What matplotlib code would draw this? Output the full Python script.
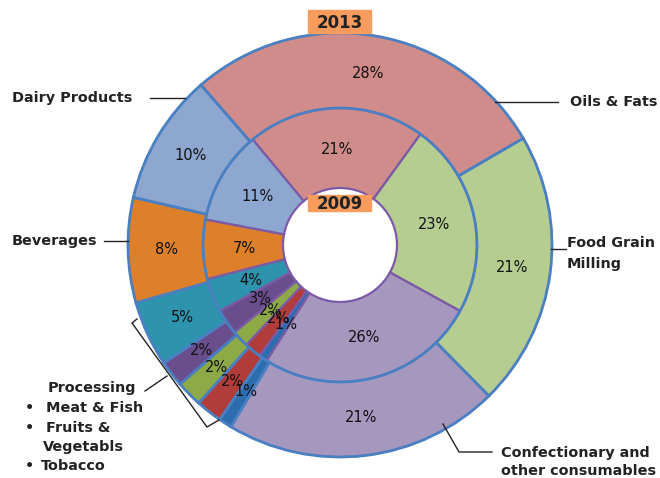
import matplotlib
matplotlib.use("Agg")
import matplotlib.pyplot as plt

# segment order: clockwise from the Dairy / Oils boundary
segments = ["Oils & Fats", "Food Grain Milling", "Confectionary", "Tobacco",
            "Fruits", "Vegetables", "Meat & Fish", "Processing", "Beverages",
            "Dairy Products"]
share_2013 = [28, 21, 21, 1, 2, 2, 2, 5, 8, 10]
share_2009 = [21, 23, 26, 1, 2, 2, 3, 4, 7, 11]
colors = ["#D08C8B", "#B6CD91", "#A597BE", "#2C6DB0", "#B23C3A",
          "#8DAA47", "#6A4D8C", "#2E93AD", "#DE7F2A", "#8DA7D0"]

W, H = 660, 478
CX, CY, R = 340, 245, 212          # pixel centre and outer radius
HALF = 250

fig = plt.figure(figsize=(W / 100, H / 100), dpi=100)
ax = fig.add_axes([(CX - HALF) / W, (H - CY - HALF) / H, 2 * HALF / W, 2 * HALF / H])
lim = HALF / R
ax.set_aspect("equal")
ax.axis("off")

r_in = 137 / R
r_hole = 57 / R
pct_font = dict(fontsize=10.5, color="#111111", family="DejaVu Sans")

# inner ring (2009)
ax.pie(share_2009, radius=r_in, colors=colors, startangle=129.6, counterclock=False,
       autopct="%d%%", pctdistance=0.70,
       wedgeprops=dict(width=r_in - r_hole, edgecolor="#7B5AA6", linewidth=1.6),
       textprops=pct_font)
# outer ring (2013)
ax.pie(share_2013, radius=1.0, colors=colors, startangle=131, counterclock=False,
       autopct="%d%%", pctdistance=0.82,
       wedgeprops=dict(width=1.0 - r_in, edgecolor="#4A7FC1", linewidth=2),
       textprops=pct_font)
ax.set_xlim(-lim, lim)
ax.set_ylim(-lim, lim)


def px(x, y):
    return ((x - CX) / R, (CY - y) / R)


# year tags
for label, (x0, y0, x1, y1) in [("2013", (308, 10, 371, 33)), ("2009", (308, 195, 371, 211))]:
    a = px(x0, y1)
    b = px(x1, y0)
    ax.add_patch(plt.Rectangle(a, b[0] - a[0], b[1] - a[1], color="#F79C5C", zorder=5,
                               clip_on=False))
    ax.text(*px((x0 + x1) / 2, (y0 + y1) / 2 + 1), label, ha="center", va="center",
            fontsize=12, fontweight="bold", color="#222222", zorder=6)

lab = dict(fontsize=10.4, fontweight="bold", color="#222222", va="center")
line = dict(color="#222222", linewidth=1, clip_on=False)


def seg(points):
    xs, ys = zip(*[px(*p) for p in points])
    ax.plot(xs, ys, **line)


ax.text(*px(12, 98), "Dairy Products", ha="left", **lab)
seg([(150, 98), (185, 98)])
ax.text(*px(12, 241), "Beverages", ha="left", **lab)
seg([(104, 241), (128, 241)])
ax.text(*px(570, 102), "Oils & Fats", ha="left", **lab)
seg([(495, 102), (558, 102)])
ax.text(*px(567, 243), "Food Grain", ha="left", **lab)
ax.text(*px(567, 264), "Milling", ha="left", **lab)
seg([(551, 249), (566, 249)])
ax.text(*px(501, 453), "Confectionary and", ha="left", **lab)
ax.text(*px(501, 471), "other consumables", ha="left", **lab)
seg([(443, 424), (459, 452), (492, 452)])

# bracket for the small segments
seg([(137, 319), (132, 323), (207, 427), (219, 420)])
seg([(145, 391), (167, 376)])
ax.text(*px(48, 388), "Processing", ha="left", **lab)
ax.text(*px(25, 408), "\u2022", ha="left", **lab)
ax.text(*px(46, 408), "Meat & Fish", ha="left", **lab)
ax.text(*px(25, 428), "\u2022", ha="left", **lab)
ax.text(*px(46, 428), "Fruits &", ha="left", **lab)
ax.text(*px(43, 447), "Vegetabls", ha="left", **lab)
ax.text(*px(25, 466), "\u2022", ha="left", **lab)
ax.text(*px(41, 466), "Tobacco", ha="left", **lab)

fig.savefig("out.png", dpi=100)
